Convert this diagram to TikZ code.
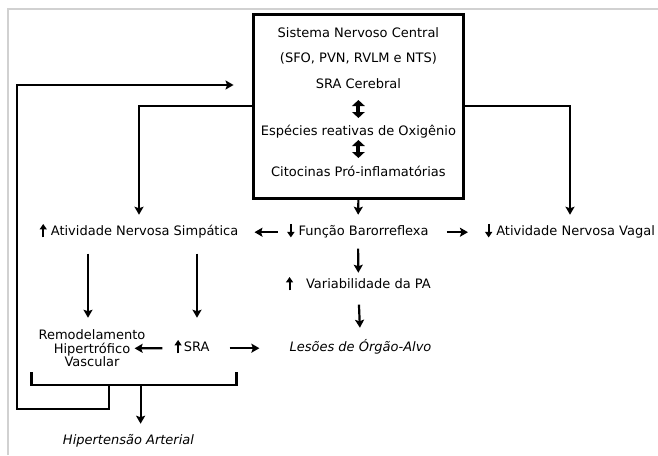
\documentclass[tikz,border=0pt]{standalone}
\usepackage{fontspec}
\setmainfont{DejaVu Sans}
\usetikzlibrary{arrows.meta}
\newcommand{\lblfont}{\fontsize{13}{13.3}\selectfont}
\newcommand{\UP}{\tikz[baseline=0pt]\draw[-{Triangle[length=5.5pt,width=7pt]},line width=2pt] (0,-2pt) -- (0,11.5pt);}
\newcommand{\DN}{\tikz[baseline=0pt]\draw[-{Triangle[length=5.5pt,width=7pt]},line width=2pt] (0,11.5pt) -- (0,-2pt);}

\begin{document}
\begin{tikzpicture}[x=1pt, y=-1pt, font=\lblfont]
			\tikzstyle{lbl}=[inner sep=0pt, text height=9.5pt, text depth=3pt]
			\tikzstyle{bigbox}=[draw, line width=3pt, minimum width=210.7pt, minimum height=184pt]
			\tikzstyle{conn}=[-{Stealth[length=8pt,width=9pt,inset=1.5pt]}, line width=2.2pt]
			\tikzstyle{dbl}=[{Triangle[length=6pt,width=12.5pt]}-{Triangle[length=6pt,width=12.5pt]}, line width=4pt]
			\tikzstyle{loopline}=[line width=2.6pt]
			\useasboundingbox (0,0) rectangle (658,455);
			\draw[black!18, line width=1.2pt] (8,455) -- (8,9) -- (658,9);
			
			% Draw central box
			\node[bigbox] (snc) at (358.4,106) {};
			\node[lbl] (cns) at (358.4,34) {Sistema Nervoso Central};
			\node[lbl] (areas) at (358.4,59) {(SFO, PVN, RVLM e NTS)};
			\node[lbl] (sracer) at (358.4,85) {SRA Cerebral};
			\node[lbl] (ero) at (358.4,132) {Espécies reativas de Oxigênio};
			\node[lbl] (cito) at (358.4,173) {Citocinas Pró-inflamatórias};
			\draw[dbl, shorten <=15pt, shorten >=14pt] (sracer.center) -- (ero.center);
			\draw[dbl, shorten <=8pt, shorten >=15pt] (ero.center) -- (cito.center);
			
			% Draw effects
			\node[lbl] (simp) at (139,232.2) {\UP\ Atividade Nervosa Simpática};
			\node[lbl] (baro) at (358,232.2) {\DN\ Função Barorreflexa};
			\node[lbl] (vagal) at (570,232.2) {\DN\ Atividade Nervosa Vagal};
			\node[lbl] (varpa) at (358.4,285.2) {\UP\hspace{13pt}Variabilidade da PA};
			\node[lbl] (lesoes) at (360.5,348.2) {\itshape Lesões de Órgão-Alvo};
			\node[inner sep=0pt, align=center] (remod) at (92,348.3) {Remodelamento\\Hipertrófico\\Vascular};
			\node[lbl] (sra) at (192,348.2) {\UP\,SRA};
			\node[lbl] (hiper) at (128.5,441.2) {\itshape Hipertensão Arterial};
			
			% Draw arrows
			\draw[conn, shorten >=11pt] (snc.south) -- (baro.north);
			\draw[conn, shorten >=11pt] (snc.west) -| (simp.north);
			\draw[conn, shorten >=11pt] (snc.east) -| (vagal.north);
			\draw[conn, shorten <=9.5pt, shorten >=16pt] (baro.west) -- (simp.east);
			\draw[conn, shorten <=18pt, shorten >=17pt] (baro.east) -- (vagal.west);
			\draw[conn, shorten <=15pt, shorten >=12pt] ([xshift=-4pt]remod.north |- simp.south) -- ([xshift=-4pt]remod.north);
			\draw[conn, shorten <=15pt, shorten >=24pt] ([xshift=5pt]sra.north |- simp.south) -- ([xshift=5pt]sra.north);
			\draw[conn, shorten <=10pt, shorten >=6pt] (baro.south) -- (varpa.north);
			\draw[conn, shorten <=13pt, shorten >=14pt] (varpa.south) -- (lesoes.north);
			\draw[conn, shorten <=12pt, shorten >=-11pt] (sra.west) -- (remod.east);
			\draw[conn, shorten <=20pt, shorten >=30pt] (sra.east) -- (lesoes.west);
			
			% Draw bracket and feedback loop
			\coordinate (brkout) at (140.6,385);
			\coordinate (brkloop) at (109,385);
			\draw[loopline] (31.5,372) |- (236.3,385) -- (236.3,372);
			\draw[conn, shorten >=11pt] (brkout) -- (brkout |- hiper.north);
			\draw[loopline, -{Stealth[length=8pt,width=9pt,inset=1.5pt]}, shorten >=18pt] (brkloop) |- (17,409) |- (sracer -| snc.west);
			
		\end{tikzpicture}
\end{document}
